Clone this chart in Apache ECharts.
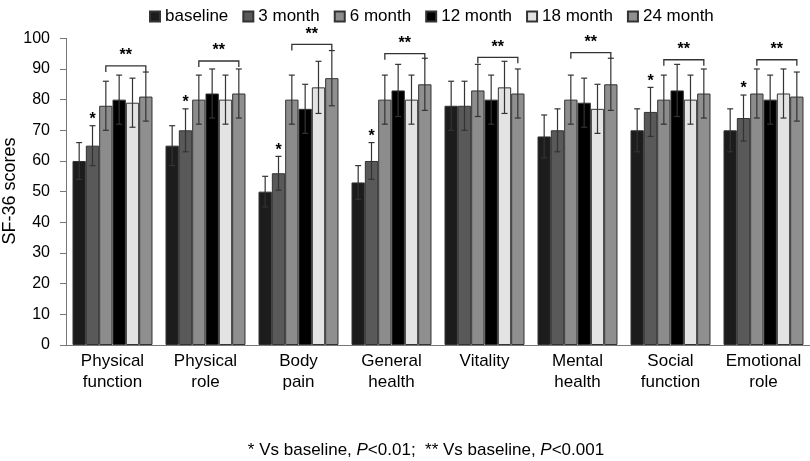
<!DOCTYPE html>
<html>
<head>
<meta charset="utf-8">
<script src="https://cdn.jsdelivr.net/npm/echarts@6/dist/echarts.min.js"></script>
<style>html,body{margin:0;padding:0;background:#fff}#c{width:810px;height:461px}</style>
</head>
<body>
<div id="c"></div>
<script>
var categories = ['Physical\nfunction','Physical\nrole','Body\npain','General\nhealth','Vitality','Mental\nhealth','Social\nfunction','Emotional\nrole'];
var seriesNames = ['baseline','3 month','6 month','12 month','18 month','24 month'];
var baseline = [60,65,50,53,78,68,70,70];
var month3  = [65,70,56,60,78,70,76,74];
var month6  = [78,80,80,80,83,80,80,82];
var month12 = [80,82,77,83,80,79,83,80];
var month18 = [79,80,84,80,84,77,80,82];
var month24 = [81,82,87,85,82,85,82,81];
var baselineErr = [6,6.5,5,5.5,8,7,7,7];
var month3Err  = [6.5,7,5.5,6,8,7,8,7.5];
var month6Err  = [8,8,8,8,8.5,8,8,8];
var month12Err = [8,8,8,8.5,8,8,8.5,8];
var month18Err = [8,8,8.5,8,8.5,8,8,8];
var month24Err = [8,8,9,8.5,8,8.5,8,8];
var starOn3Month = [1,1,1,1,0,0,1,1];
var bracketLevel = [91,92.6,98,95,93.8,95.3,93,93];
var yTicks = [0,10,20,30,40,50,60,70,80,90,100];
var yTitle = 'SF-36 scores';

var values = [baseline, month3, month6, month12, month18, month24];
var errs = [baselineErr, month3Err, month6Err, month12Err, month18Err, month24Err];
var colors = ['#1c1c1c','#595959','#8c8c8c','#000000','#e3e3e3','#8f8f8f'];
var CAT_GAP = 0.14;
var N = 6;
var FONT = "'Liberation Sans', Arial, sans-serif";

function barCenter(api, catIdx, sIdx) {
  var c = api.coord([catIdx, 0]);
  var band = api.size([1, 0])[0];
  var used = band * (1 - CAT_GAP);
  var w = used / N;
  return c[0] - used / 2 + w * (sIdx + 0.5);
}

var series = [];
seriesNames.forEach(function (name, s) {
  series.push({
    name: name, type: 'bar', data: values[s],
    barGap: '0%', barCategoryGap: (CAT_GAP * 100) + '%',
    itemStyle: { color: colors[s], borderColor: '#333', borderWidth: 1 },
    z: 2
  });
});

// error bars
var errData = [];
values.forEach(function (arr, s) {
  arr.forEach(function (v, i) { errData.push([i, v, errs[s][i], s]); });
});
series.push({
  type: 'custom', z: 5, silent: true,
  data: errData,
  encode: { x: 0, y: 1 },
  renderItem: function (params, api) {
    var i = api.value(0), v = api.value(1), e = api.value(2), s = api.value(3);
    var x = barCenter(api, i, s);
    var yt = api.coord([i, v + e])[1];
    var yb = api.coord([i, v - e])[1];
    var cap = 3;
    var st = { stroke: '#333', lineWidth: 1.2 };
    return { type: 'group', children: [
      { type: 'line', shape: { x1: x, y1: yt, x2: x, y2: yb }, style: st },
      { type: 'line', shape: { x1: x - cap, y1: yt, x2: x + cap, y2: yt }, style: st },
      { type: 'line', shape: { x1: x - cap, y1: yb, x2: x + cap, y2: yb }, style: st }
    ]};
  }
});

// brackets with **
var brData = bracketLevel.map(function (b, i) { return [i, b]; });
series.push({
  type: 'custom', z: 6, silent: true,
  data: brData,
  encode: { x: 0, y: 1 },
  renderItem: function (params, api) {
    var i = api.value(0), b = api.value(1);
    var x1 = barCenter(api, i, 2), x2 = barCenter(api, i, 5);
    var y = api.coord([i, b])[1];
    var st = { stroke: '#333', lineWidth: 1.3, fill: null };
    return { type: 'group', children: [
      { type: 'polyline', shape: { points: [[x1, y + 6], [x1, y], [x2, y], [x2, y + 6]] }, style: st },
      { type: 'text', x: (x1 + x2) / 2, y: y - 2, style: { text: '**', fontSize: 16, fontWeight: 'bold', fontFamily: FONT, fill: '#000', align: 'center', verticalAlign: 'bottom' } }
    ]};
  }
});

// single stars
var starData = [];
starOn3Month.forEach(function (f, i) { if (f) starData.push([i, month3[i] + month3Err[i]]); });
series.push({
  type: 'custom', z: 6, silent: true,
  data: starData,
  encode: { x: 0, y: 1 },
  renderItem: function (params, api) {
    var i = api.value(0), t = api.value(1);
    var x = barCenter(api, i, 1);
    var y = api.coord([i, t])[1];
    return { type: 'text', x: x, y: y + 2, style: { text: '*', fontSize: 16, fontWeight: 'bold', fontFamily: FONT, fill: '#000', align: 'center', verticalAlign: 'bottom' } };
  }
});

var chart = echarts.init(document.getElementById('c'));
chart.setOption({
  animation: false,
  textStyle: { fontFamily: FONT },
  legend: {
    data: seriesNames, left: 144, top: 3, itemWidth: 10, itemHeight: 10, itemGap: 14,
    icon: 'rect', textStyle: { fontSize: 17, color: '#000', fontFamily: FONT }
  },
  grid: { left: 66, right: 0, top: 38.3, bottom: 116, containLabel: false, outerBoundsMode: 'none' },
  xAxis: {
    type: 'category', data: categories,
    axisLine: { lineStyle: { color: '#777', width: 1 } },
    axisTick: { show: false },
    axisLabel: { fontSize: 17, lineHeight: 21, color: '#000', margin: 6, fontFamily: FONT, interval: 0 }
  },
  yAxis: {
    type: 'value', min: yTicks[0], max: yTicks[yTicks.length - 1], interval: yTicks[1] - yTicks[0],
    axisLine: { show: true, lineStyle: { color: '#777', width: 1 } },
    axisTick: { show: true, length: 6, lineStyle: { color: '#777' } },
    axisLabel: { fontSize: 16, color: '#000', margin: 16, fontFamily: FONT },
    splitLine: { show: false }
  },
  graphic: [{
    type: 'text', x: 10, y: 191, rotation: Math.PI / 2,
    style: { text: yTitle, fontSize: 18, fontFamily: FONT, fill: '#000', align: 'center', verticalAlign: 'middle' }
  }, {
    type: 'text', x: 426, y: 450,
    style: {
      text: '{n|* Vs baseline, }{i|P}{n|<0.01;  ** Vs baseline, }{i|P}{n|<0.001}',
      align: 'center', verticalAlign: 'middle',
      rich: {
        n: { fontSize: 17, fontFamily: FONT, fill: '#000' },
        i: { fontSize: 17, fontFamily: FONT, fontStyle: 'italic', fill: '#000' }
      }
    }
  }],
  series: series
});
</script>
</body>
</html>
